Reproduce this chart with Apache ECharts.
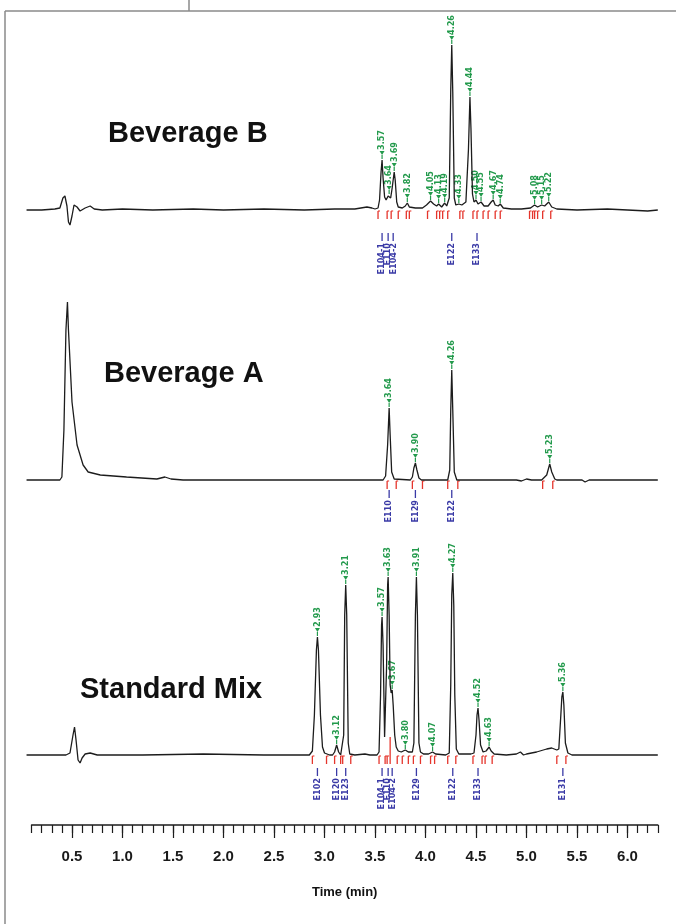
<!DOCTYPE html>
<html><head><meta charset="utf-8">
<script src="https://cdn.jsdelivr.net/npm/echarts@6/dist/echarts.min.js"></script>
<style>html,body{margin:0;padding:0;background:#fff}#c{width:676px;height:924px}</style>
</head><body><div id="c"></div>
<script>
// ---------- DATA (time in min, signal in arbitrary units) ----------
const traceB = [[0.05,0],[0.2,0],[0.33,1],[0.38,2],[0.41,12],[0.43,14],[0.45,4],[0.465,-12],[0.48,-15],[0.50,-6],[0.52,5],[0.55,3],[0.58,-1],[0.63,2],[0.68,4],[0.72,1],[0.8,0],[1.0,1],[1.3,0],[1.7,1],[2.0,0],[2.4,1],[2.8,0],[3.1,1],[3.3,1],[3.42,3],[3.47,2],[3.50,1],
[3.53,2],[3.545,10],[3.56,38],[3.57,50],[3.58,32],[3.595,13],[3.61,10],[3.63,14],[3.64,15],[3.655,12],[3.67,22],[3.69,38],[3.70,30],[3.715,8],[3.73,3],[3.77,2],[3.80,4],[3.82,7],[3.84,3],[3.9,2],[3.97,2],[4.01,5],[4.05,9],[4.08,6],[4.11,4],[4.13,6],[4.16,3],[4.19,7],[4.21,4],[4.235,12],[4.25,120],[4.26,165],[4.27,118],[4.285,12],[4.30,5],[4.33,6],[4.36,5],[4.40,8],[4.425,60],[4.44,113],[4.45,82],[4.465,16],[4.48,8],[4.50,10],[4.52,6],[4.55,8],[4.58,4],[4.62,4],[4.65,8],[4.67,10],[4.69,5],[4.72,4],[4.74,6],[4.77,2],[4.85,1],[4.95,1],[5.04,2],[5.08,5],[5.11,3],[5.15,5],[5.18,4],[5.22,8],[5.25,3],[5.3,1],[5.5,0],[5.8,1],[6.0,0],[6.2,-1],[6.3,0]];
const peaksB_t = [3.57,3.64,3.69,3.82,4.05,4.13,4.19,4.26,4.33,4.44,4.50,4.55,4.67,4.74,5.08,5.15,5.22];
const peaksB_h = [50,15,38,7,9,6,7,165,6,113,10,8,10,6,5,5,8];
const redB = [3.53,3.62,3.66,3.73,3.81,3.84,4.02,4.11,4.14,4.17,4.22,4.34,4.37,4.47,4.51,4.57,4.62,4.69,4.74,5.03,5.06,5.08,5.11,5.16,5.24];
const compB_t = [3.57,3.63,3.68,4.26,4.51];
const compB_n = ['E104-1','E110','E104-2','E122','E133'];

const traceA = [[0.05,0],[0.3,0],[0.38,0],[0.40,3],[0.42,50],[0.44,150],[0.455,178],[0.465,150],[0.5,78],[0.55,35],[0.61,15],[0.66,8],[0.78,5],[1.04,3],[1.34,1],[1.42,3],[1.48,1],[1.6,0],[2.0,0],[2.5,0],[3.0,0],[3.58,0],[3.605,4],[3.625,35],[3.64,72],[3.65,45],[3.665,8],[3.69,1],[3.85,0],[3.87,3],[3.885,12],[3.90,17],[3.915,10],[3.935,2],[3.96,0],[4.22,0],[4.24,10],[4.25,70],[4.26,110],[4.27,70],[4.285,8],[4.31,0],[4.9,0],[4.95,-1],[5.0,1],[5.05,0],[5.15,0],[5.2,5],[5.23,16],[5.25,8],[5.28,1],[5.3,0],[5.55,0],[5.58,-2],[5.62,0],[6.3,0]];
const peaksA_t = [3.64,3.90,4.26,5.23];
const peaksA_h = [72,17,110,16];
const redA = [3.62,3.71,3.87,3.97,4.22,4.32,5.16,5.26];
const compA_t = [3.64,3.90,4.26];
const compA_n = ['E110','E129','E122'];

const traceS = [[0.05,0],[0.3,0],[0.44,0],[0.48,2],[0.51,20],[0.525,28],[0.54,15],[0.56,-5],[0.58,-8],[0.60,-3],[0.63,1],[0.68,2],[0.75,0],[1.2,0],[1.8,1],[2.4,0],[2.85,0],[2.88,4],[2.90,40],[2.92,105],[2.93,118],[2.94,105],[2.96,40],[2.98,8],[3.0,2],[3.05,0],[3.08,0],[3.10,3],[3.12,10],[3.14,3],[3.16,0],[3.175,2],[3.19,20],[3.20,140],[3.21,170],[3.22,140],[3.235,12],[3.25,1],[3.3,0],[3.4,1],[3.45,0],[3.52,0],[3.54,3],[3.555,60],[3.565,130],[3.57,138],[3.58,110],[3.595,18],[3.605,16],[3.615,90],[3.625,170],[3.63,178],[3.64,140],[3.65,70],[3.66,62],[3.67,65],[3.68,50],[3.695,20],[3.71,8],[3.73,4],[3.76,3],[3.80,5],[3.83,3],[3.87,3],[3.885,12],[3.90,140],[3.91,178],[3.92,140],[3.935,12],[3.95,3],[3.98,1],[4.03,1],[4.07,3],[4.10,1],[4.2,0],[4.235,2],[4.25,70],[4.26,160],[4.27,182],[4.28,150],[4.29,60],[4.305,6],[4.33,1],[4.45,1],[4.48,2],[4.50,20],[4.51,40],[4.52,47],[4.53,35],[4.545,10],[4.57,3],[4.60,4],[4.63,8],[4.65,4],[4.68,1],[4.8,0],[4.9,1],[4.94,3],[4.97,0],[5.0,1],[5.1,3],[5.2,6],[5.25,7],[5.3,5],[5.32,6],[5.34,40],[5.35,58],[5.36,63],[5.37,50],[5.385,12],[5.41,2],[5.45,0],[6.3,0]];
const peaksS_t = [2.93,3.12,3.21,3.57,3.63,3.67,3.80,3.91,4.07,4.27,4.52,4.63,5.36];
const peaksS_h = [118,10,170,138,178,65,5,178,3,182,47,8,63];
const redS = [2.88,3.02,3.10,3.16,3.18,3.26,3.54,3.60,3.62,3.72,3.77,3.83,3.88,3.95,4.05,4.09,4.22,4.30,4.47,4.56,4.59,4.66,5.30,5.39];
const dropS_t = [3.65];
const dropS_h = [18];
const compS_t = [2.93,3.12,3.21,3.57,3.63,3.67,3.91,4.27,4.52,5.36];
const compS_n = ['E102','E120','E123','E104-1','E110','E104-2','E129','E122','E133','E131'];

const titles = ['Beverage B','Beverage A','Standard Mix'];
const axisTitle = 'Time (min)';

// ---------- LAYOUT / STYLE ----------
const PXM = 101;              // px per minute
const X05 = 72;               // px of t = 0.5
const xOf = t => X05 + (t - 0.5) * PXM;
const G = '#239a4c', R = '#e5352c', B = '#3a3aa6', K = '#1c1c1c';
const smallFont = 'bold 9px "DejaVu Sans Condensed", "DejaVu Sans", sans-serif';
const panelTops = [20, 290, 565];
const compGap = [23, 10, 13];

const grids = [], xAxes = [], yAxes = [], series = [];
panelTops.forEach((top, i) => {
  grids.push({left: xOf(0.05), width: 6.25 * PXM, top: top, height: 210});
  xAxes.push({type:'value', gridIndex:i, min:0.05, max:6.3, show:false});
  yAxes.push({type:'value', gridIndex:i, min:-20, max:190, show:false});
});
// ruler grids
grids.push({left: xOf(0.1), width: 6.2 * PXM, top: 824, height: 1});
grids.push({left: xOf(0.5), width: 5.5 * PXM, top: 824, height: 1});
xAxes.push({type:'value', gridIndex:3, min:0.1, max:6.3, interval:0.1, position:'bottom',
  axisLine:{show:true, lineStyle:{color:K, width:1.6}},
  axisTick:{show:true, length:8, lineStyle:{color:K, width:1.2}},
  axisLabel:{show:false}, splitLine:{show:false},
  name: axisTitle, nameLocation:'middle', nameGap:61,
  nameTextStyle:{fontFamily:'Liberation Sans', fontWeight:'bold', fontSize:13, color:'#111'}});
xAxes.push({type:'value', gridIndex:4, min:0.5, max:6.0, interval:0.5, position:'bottom',
  axisLine:{show:false},
  axisTick:{show:true, length:13, lineStyle:{color:K, width:1.2}},
  axisLabel:{show:true, margin:24, fontFamily:'Liberation Sans', fontWeight:'bold', fontSize:15, color:'#1a1a1a',
    formatter: v => v.toFixed(1)},
  splitLine:{show:false}});
yAxes.push({type:'value', gridIndex:3, show:false});
yAxes.push({type:'value', gridIndex:4, show:false});

function greenItem(params, api) {
  const t = api.value(0), h = api.value(1);
  const p = api.coord([t, h]);
  const x = p[0], y = p[1] - 1;
  return {type:'group', children:[
    {type:'line', shape:{x1:x, y1:y, x2:x, y2:y-4}, style:{stroke:G, lineWidth:1.2}},
    {type:'polygon', shape:{points:[[x-2.5,y-8],[x+2.5,y-8],[x,y-4]]}, style:{fill:G}},
    {type:'text', x:x, y:y-9, rotation:Math.PI/2,
      style:{text:t.toFixed(2), fill:G, font:smallFont, align:'left', verticalAlign:'middle'}}
  ]};
}
function redItem(params, api) {
  const p = api.coord([api.value(0), 0]);
  const x = p[0], y = p[1];
  return {type:'group', children:[
    {type:'line', shape:{x1:x, y1:y+1, x2:x, y2:y+9}, style:{stroke:R, lineWidth:1.3}},
    {type:'line', shape:{x1:x, y1:y+1, x2:x+2, y2:y+1}, style:{stroke:R, lineWidth:1.1}}
  ]};
}
function dropItem(params, api) {
  const p0 = api.coord([api.value(0), 0]);
  const p1 = api.coord([api.value(0), api.value(1)]);
  return {type:'line', shape:{x1:p0[0], y1:p0[1]+9, x2:p1[0], y2:p1[1]}, style:{stroke:R, lineWidth:1.3}};
}
function compItemFactory(names, gap) {
  return function(params, api) {
    const p = api.coord([api.value(0), 0]);
    const x = p[0], y = p[1] + gap;
    return {type:'group', children:[
      {type:'line', shape:{x1:x, y1:y, x2:x, y2:y+8}, style:{stroke:B, lineWidth:1.3}},
      {type:'text', x:x, y:y+10, rotation:Math.PI/2,
        style:{text:names[params.dataIndex], fill:B, font:smallFont, align:'right', verticalAlign:'middle'}}
    ]};
  };
}

const panels = [
  {trace:traceB, pt:peaksB_t, ph:peaksB_h, red:redB, ct:compB_t, cn:compB_n},
  {trace:traceA, pt:peaksA_t, ph:peaksA_h, red:redA, ct:compA_t, cn:compA_n},
  {trace:traceS, pt:peaksS_t, ph:peaksS_h, red:redS, ct:compS_t, cn:compS_n}
];
panels.forEach((pn, i) => {
  series.push({type:'custom', xAxisIndex:i, yAxisIndex:i, renderItem:redItem, clip:false, silent:true,
    data: pn.red.map(t => [t, 0])});
  series.push({type:'line', xAxisIndex:i, yAxisIndex:i, data:pn.trace, showSymbol:false, symbol:'none',
    lineStyle:{color:K, width:1.3}, silent:true});
  series.push({type:'custom', xAxisIndex:i, yAxisIndex:i, renderItem:greenItem, clip:false, silent:true,
    data: pn.pt.map((t, k) => [t, pn.ph[k]])});
  series.push({type:'custom', xAxisIndex:i, yAxisIndex:i, renderItem:compItemFactory(pn.cn, compGap[i]), clip:false, silent:true,
    data: pn.ct.map(t => [t, 0])});
});
series.push({type:'custom', xAxisIndex:2, yAxisIndex:2, renderItem:dropItem, clip:false, silent:true,
  data: dropS_t.map((t, k) => [t, dropS_h[k]])});

const titleStyle = {fontFamily:'Liberation Sans', fontWeight:'bold', fontSize:29, color:'#111'};
const chart = echarts.init(document.getElementById('c'), null, {renderer:'canvas'});
chart.setOption({
  animation:false,
  backgroundColor:'#ffffff',
  title:[
    {text:titles[0], left:103, top:114, textStyle:titleStyle},
    {text:titles[1], left:99, top:354, textStyle:titleStyle},
    {text:titles[2], left:75, top:670, textStyle:titleStyle}
  ],
  graphic:[
    {type:'line', shape:{x1:5, y1:11, x2:676, y2:11}, style:{stroke:'#8a8a8a', lineWidth:1.5}},
    {type:'line', shape:{x1:5, y1:11, x2:5, y2:924}, style:{stroke:'#8a8a8a', lineWidth:1.5}},
    {type:'line', shape:{x1:189, y1:0, x2:189, y2:11}, style:{stroke:'#8a8a8a', lineWidth:1.5}}
  ],
  grid:grids, xAxis:xAxes, yAxis:yAxes, series:series
});
</script>
</body></html>
